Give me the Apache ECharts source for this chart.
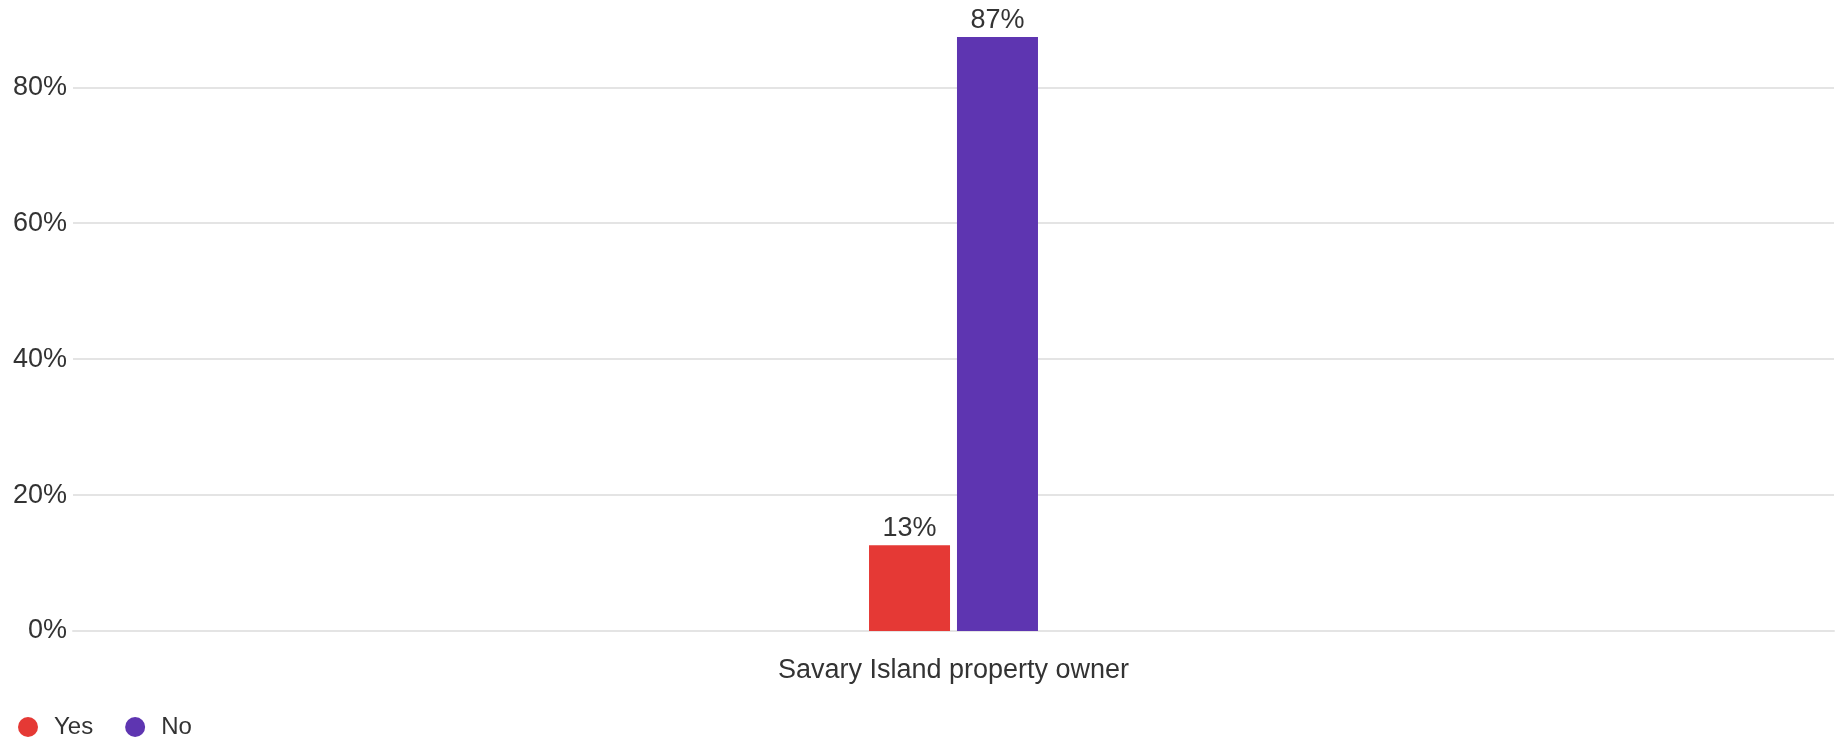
<!DOCTYPE html>
<html>
<head>
<meta charset="utf-8">
<script src="https://cdn.jsdelivr.net/npm/echarts@6/dist/echarts.min.js"></script>
<style>
html,body{margin:0;padding:0;background:#fff;}
#chart{width:1837px;height:740px;}
</style>
</head>
<body>
<div id="chart"></div>
<script>
const categories = ['Savary Island property owner'];
const seriesNames = ['Yes', 'No'];
const yesValues = [12.6];
const noValues = [87.4];
const colors = ['#e53935', '#5e35b1'];
const yTicks = [0, 20, 40, 60, 80];

const chart = echarts.init(document.getElementById('chart'));
const font = 'Liberation Sans, Arial, sans-serif';
const maxVal = Math.max(...yesValues, ...noValues);

chart.setOption({
  animation: false,
  textStyle: { fontFamily: font },
  grid: { left: 73, right: 3, top: 37, bottom: 109, containLabel: false },
  legend: {
    left: 13, top: 710,
    icon: 'circle', itemWidth: 20, itemHeight: 20, itemGap: 32,
    textStyle: { fontSize: 24, color: '#333', fontFamily: font, padding: [0, 0, 0, 11] },
    data: seriesNames
  },
  xAxis: {
    type: 'category',
    data: categories,
    axisLine: { lineStyle: { color: '#e4e4e4', width: 2 } },
    axisTick: { show: false },
    axisLabel: { fontSize: 27, color: '#333', margin: 26, fontFamily: font }
  },
  yAxis: {
    type: 'value',
    min: yTicks[0], max: maxVal, interval: yTicks[1] - yTicks[0],
    axisLine: { show: false }, axisTick: { show: false },
    axisLabel: { fontSize: 27, color: '#333', margin: 6, fontFamily: font, showMaxLabel: false,
      formatter: v => v + '%' },
    splitLine: { showMaxLine: false, lineStyle: { color: '#e4e4e4', width: 2 } }
  },
  series: [
    { name: seriesNames[0], type: 'bar', data: yesValues, barWidth: 81, barGap: '8.6%',
      itemStyle: { color: colors[0] },
      label: { show: true, position: 'top', distance: 3, fontSize: 27, color: '#333', fontFamily: font,
        formatter: p => Math.round(p.value) + '%' } },
    { name: seriesNames[1], type: 'bar', data: noValues, barWidth: 81,
      itemStyle: { color: colors[1] },
      label: { show: true, position: 'top', distance: 3, fontSize: 27, color: '#333', fontFamily: font,
        formatter: p => Math.round(p.value) + '%' } }
  ]
});
</script>
</body>
</html>
